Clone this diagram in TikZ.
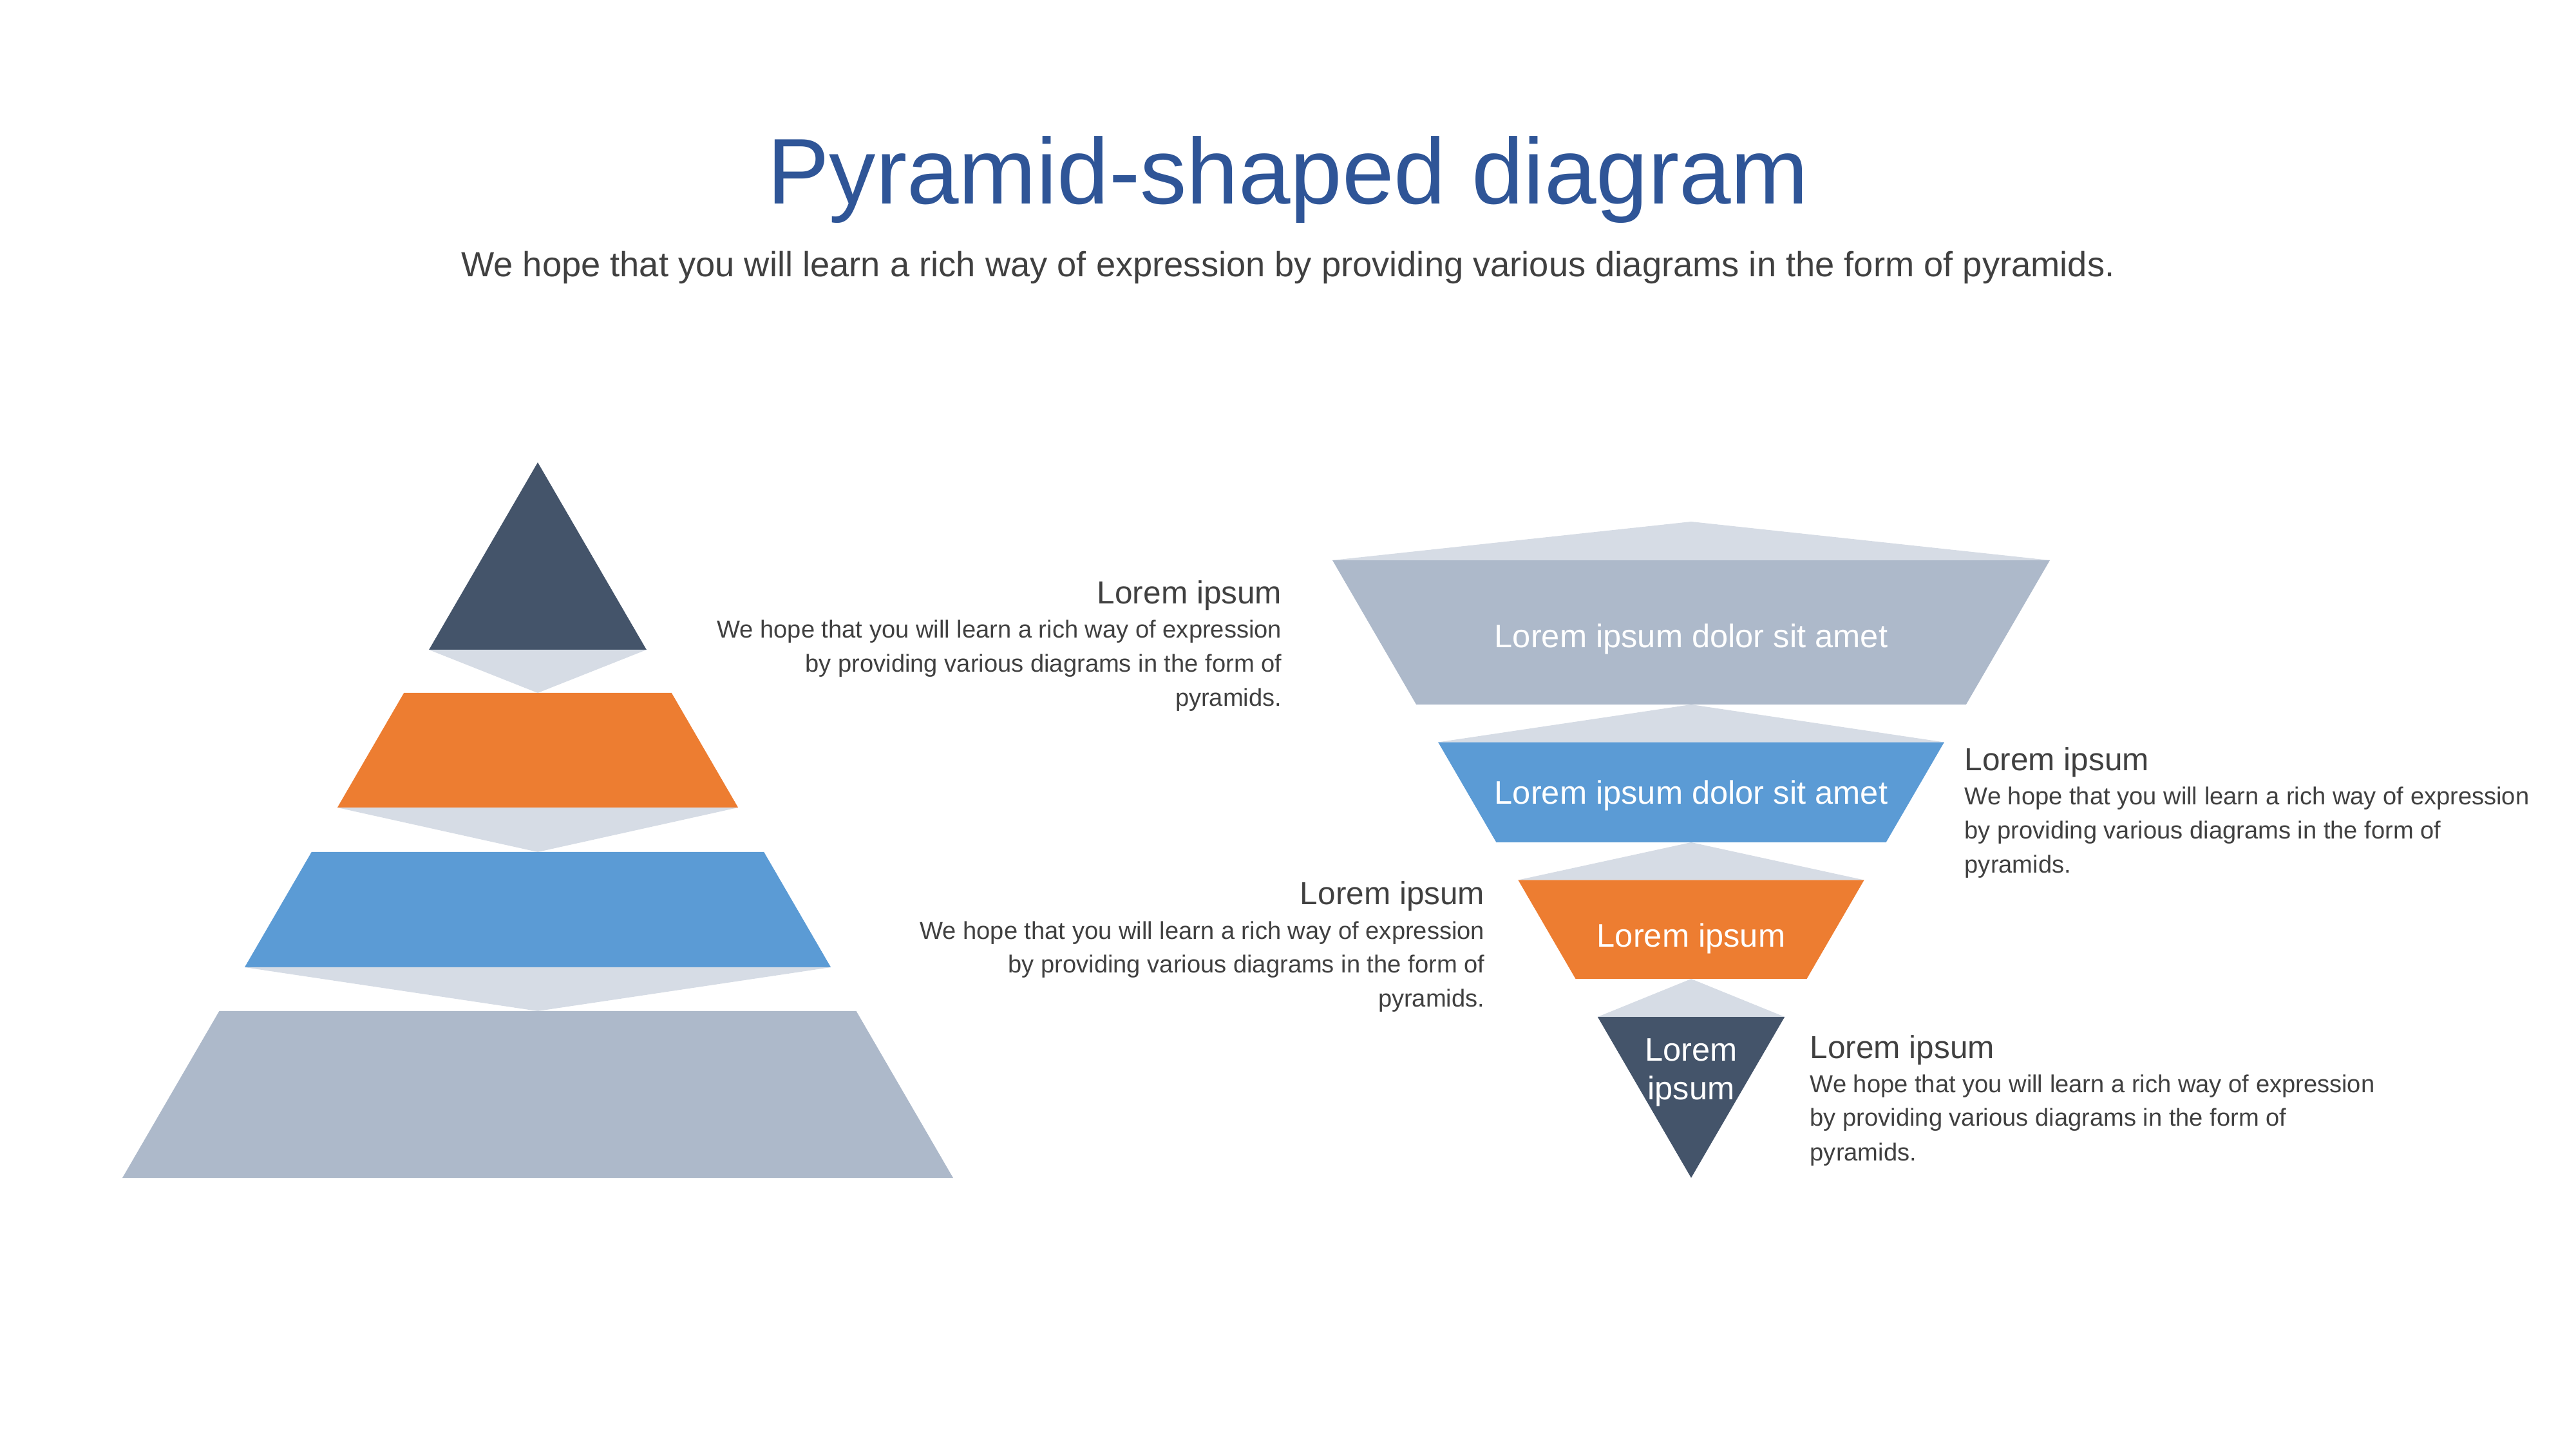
\documentclass[tikz,border=0pt]{standalone}
\usepackage{fontspec}
\setmainfont{Liberation Sans}
\usepackage{tikz}
\definecolor{navyband}{HTML}{44546A}
\definecolor{orangeband}{HTML}{ED7D31}
\definecolor{blueband}{HTML}{5B9BD5}
\definecolor{grayband}{HTML}{ADB9CA}
\definecolor{gapband}{HTML}{D6DCE5}
\definecolor{titleblue}{HTML}{2F5597}
\definecolor{textgray}{HTML}{404040}

\begin{document}
\begin{tikzpicture}[x=1cm, y=-1cm,
  hdr/.style={font=\fontsize{14.1}{17}\selectfont, text=textgray, inner sep=0pt},
  bodytxt/.style={font=\fontsize{10.85}{15}\selectfont, text=textgray, inner sep=0pt},
  lbl/.style={font=\fontsize{14.4}{17}\selectfont, text=white, inner sep=0pt, anchor=base}]

\useasboundingbox (0,0) rectangle (40,22.5);

% ---- Title and subtitle ----
\node[font=\fontsize{41.2}{48}\selectfont, text=titleblue, anchor=base, inner sep=0pt] (title) at (20.0, 3.17) {Pyramid-shaped diagram};
\node[font=\fontsize{15.45}{18}\selectfont, text=textgray, anchor=base, inner sep=0pt] (subtitle) at (20.0, 4.30) {We hope that you will learn a rich way of expression by providing various diagrams in the form of pyramids.};

% ---- Left pyramid (apex at 7.18, sides slope 0.5805) ----
\foreach \top/\bot/\col in {7.18/10.09/navyband, 10.76/12.54/orangeband, 13.23/15.02/blueband, 15.70/18.29/grayband}{
  \pgfmathsetmacro{\wt}{0.5805*(\top-7.18)}
  \pgfmathsetmacro{\wb}{0.5805*(\bot-7.18)}
  \fill[\col] (8.35-\wt, \top) -- (8.35+\wt, \top) -- (8.35+\wb, \bot) -- (8.35-\wb, \bot) -- cycle;
}
% light wedges between the layers
\foreach \bot/\nxt in {10.09/10.76, 12.54/13.23, 15.02/15.70}{
  \pgfmathsetmacro{\wb}{0.5805*(\bot-7.18)}
  \fill[gapband] (8.35-\wb, \bot) -- (8.35+\wb, \bot) -- (8.35, \nxt) -- cycle;
}

% ---- Right pyramid, upside down (apex at 18.29) ----
\foreach \top/\bot/\col in {8.70/10.94/grayband, 11.525/13.08/blueband, 13.665/15.20/orangeband, 15.79/18.29/navyband}{
  \pgfmathsetmacro{\wt}{0.5808*(18.29-\top)}
  \pgfmathsetmacro{\wb}{0.5808*(18.29-\bot)}
  \fill[\col] (26.26-\wt, \top) -- (26.26+\wt, \top) -- (26.26+\wb, \bot) -- (26.26-\wb, \bot) -- cycle;
}
% light wedges above each layer
\foreach \prv/\base in {8.10/8.70, 10.94/11.525, 13.08/13.665, 15.20/15.79}{
  \pgfmathsetmacro{\wt}{0.5808*(18.29-\base)}
  \fill[gapband] (26.26, \prv) -- (26.26+\wt, \base) -- (26.26-\wt, \base) -- cycle;
}

% Labels inside the layers
\node[lbl] (lblgray) at (26.26, 10.06) {Lorem ipsum dolor sit amet};
\node[lbl] (lblblue) at (26.26, 12.49) {Lorem ipsum dolor sit amet};
\node[lbl] (lblorange) at (26.26, 14.71) {Lorem ipsum};
\node[lbl] (lblnavy) at (26.26, 16.48) {Lorem};
\node[lbl] (lblnavyb) at (26.26, 17.07) {ipsum};

% ---- Side texts ----
\foreach \bx/\by/\side/\nm in {19.91/9.38/east/ta, 30.50/11.97/west/tb, 23.06/14.05/east/tc, 28.10/16.43/west/td}{
  \node[hdr, anchor=base \side] (\nm) at (\bx, \by) {Lorem ipsum};
  \foreach \txt [count=\k] in {We hope that you will learn a rich way of expression, by providing various diagrams in the form of, pyramids.}{
    \node[bodytxt, anchor=base \side] (\nm\k) at (\bx, \by+0.53*\k) {\txt};
  }
}

\end{tikzpicture}
\end{document}
